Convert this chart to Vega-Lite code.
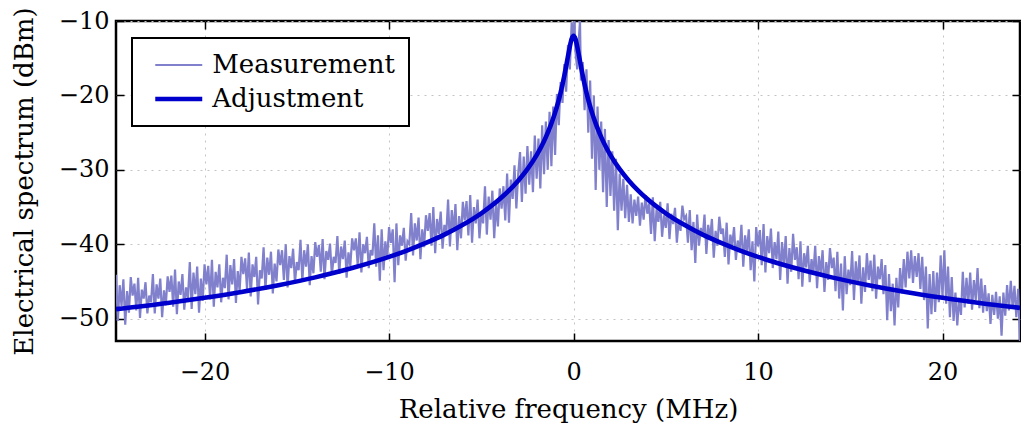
{
  "$schema": "https://vega.github.io/schema/vega-lite/v6.json",
  "width": 904,
  "height": 320,
  "autosize": "none",
  "padding": {"left": 116, "top": 21, "right": 1, "bottom": 82},
  "background": "#ffffff",
  "datasets": {
    "meas": [
      {"f":-24.8,"Measurement":-44.1},{"f":-24.7,"Measurement":-50.3},{"f":-24.6,"Measurement":-45.5},{"f":-24.5,"Measurement":-48.3},{"f":-24.4,"Measurement":-44.7},
      {"f":-24.3,"Measurement":-50.8},{"f":-24.2,"Measurement":-46.3},{"f":-24.1,"Measurement":-49.2},{"f":-24.0,"Measurement":-44.4},
      {"f":-23.9,"Measurement":-46.9},{"f":-23.8,"Measurement":-45.3},{"f":-23.7,"Measurement":-48.9},{"f":-23.6,"Measurement":-44.5},{"f":-23.5,"Measurement":-49.9},
      {"f":-23.4,"Measurement":-46.1},{"f":-23.3,"Measurement":-47.3},{"f":-23.2,"Measurement":-45.1},{"f":-23.1,"Measurement":-49.3},{"f":-23.0,"Measurement":-46.9},
      {"f":-22.9,"Measurement":-47.8},{"f":-22.8,"Measurement":-44.0},{"f":-22.7,"Measurement":-49.3},{"f":-22.6,"Measurement":-45.4},{"f":-22.5,"Measurement":-47.3},
      {"f":-22.4,"Measurement":-44.6},{"f":-22.3,"Measurement":-49.8},{"f":-22.2,"Measurement":-46.2},{"f":-22.1,"Measurement":-48.2},{"f":-22.0,"Measurement":-44.3},
      {"f":-21.9,"Measurement":-46.4},{"f":-21.8,"Measurement":-44.2},{"f":-21.7,"Measurement":-48.4},{"f":-21.6,"Measurement":-43.4},{"f":-21.5,"Measurement":-49.4},
      {"f":-21.4,"Measurement":-45.0},{"f":-21.3,"Measurement":-46.8},{"f":-21.2,"Measurement":-44.0},{"f":-21.1,"Measurement":-48.8},{"f":-21.0,"Measurement":-45.8},
      {"f":-20.9,"Measurement":-47.2},{"f":-20.8,"Measurement":-42.4},{"f":-20.7,"Measurement":-48.7},{"f":-20.6,"Measurement":-43.8},{"f":-20.5,"Measurement":-46.7},
      {"f":-20.4,"Measurement":-43.0},{"f":-20.3,"Measurement":-49.2},{"f":-20.2,"Measurement":-44.6},{"f":-20.1,"Measurement":-47.6},{"f":-20.0,"Measurement":-42.7},
      {"f":-19.9,"Measurement":-45.4},{"f":-19.8,"Measurement":-42.9},{"f":-19.7,"Measurement":-47.4},{"f":-19.6,"Measurement":-42.1},{"f":-19.5,"Measurement":-48.4},
      {"f":-19.4,"Measurement":-43.7},{"f":-19.3,"Measurement":-45.8},{"f":-19.2,"Measurement":-42.7},{"f":-19.1,"Measurement":-47.8},{"f":-19.0,"Measurement":-44.5},
      {"f":-18.9,"Measurement":-45.9},{"f":-18.8,"Measurement":-41.4},{"f":-18.7,"Measurement":-47.4},{"f":-18.6,"Measurement":-42.8},{"f":-18.5,"Measurement":-45.4},
      {"f":-18.4,"Measurement":-42.0},{"f":-18.3,"Measurement":-47.9},{"f":-18.2,"Measurement":-43.6},{"f":-18.1,"Measurement":-46.3},{"f":-18.0,"Measurement":-41.7},
      {"f":-17.9,"Measurement":-44.0},{"f":-17.8,"Measurement":-41.9},{"f":-17.7,"Measurement":-46.0},{"f":-17.6,"Measurement":-41.1},{"f":-17.5,"Measurement":-47.0},
      {"f":-17.4,"Measurement":-42.7},{"f":-17.3,"Measurement":-44.4},{"f":-17.2,"Measurement":-41.7},{"f":-17.1,"Measurement":-48.1},{"f":-17.0,"Measurement":-43.5},
      {"f":-16.9,"Measurement":-44.6},{"f":-16.8,"Measurement":-40.4},{"f":-16.7,"Measurement":-46.1},{"f":-16.6,"Measurement":-41.8},{"f":-16.5,"Measurement":-44.1},
      {"f":-16.4,"Measurement":-41.0},{"f":-16.3,"Measurement":-46.6},{"f":-16.2,"Measurement":-42.6},{"f":-16.1,"Measurement":-45.0},{"f":-16.0,"Measurement":-40.7},
      {"f":-15.9,"Measurement":-42.8},{"f":-15.8,"Measurement":-40.8},{"f":-15.7,"Measurement":-44.8},{"f":-15.6,"Measurement":-40.0},{"f":-15.5,"Measurement":-45.8},
      {"f":-15.4,"Measurement":-41.6},{"f":-15.3,"Measurement":-43.2},{"f":-15.2,"Measurement":-40.6},{"f":-15.1,"Measurement":-45.2},{"f":-15.0,"Measurement":-42.4},
      {"f":-14.9,"Measurement":-43.5},{"f":-14.8,"Measurement":-39.4},{"f":-14.7,"Measurement":-45.0},{"f":-14.6,"Measurement":-40.8},{"f":-14.5,"Measurement":-43.0},
      {"f":-14.4,"Measurement":-40.0},{"f":-14.3,"Measurement":-45.5},{"f":-14.2,"Measurement":-41.6},{"f":-14.1,"Measurement":-43.9},{"f":-14.0,"Measurement":-39.7},
      {"f":-13.9,"Measurement":-41.7},{"f":-13.8,"Measurement":-40.1},{"f":-13.7,"Measurement":-43.7},{"f":-13.6,"Measurement":-39.3},{"f":-13.5,"Measurement":-44.7},
      {"f":-13.4,"Measurement":-40.9},{"f":-13.3,"Measurement":-42.1},{"f":-13.2,"Measurement":-39.9},{"f":-13.1,"Measurement":-44.1},{"f":-13.0,"Measurement":-41.7},
      {"f":-12.9,"Measurement":-42.5},{"f":-12.8,"Measurement":-38.9},{"f":-12.7,"Measurement":-44.0},{"f":-12.6,"Measurement":-40.3},{"f":-12.5,"Measurement":-42.0},
      {"f":-12.4,"Measurement":-39.5},{"f":-12.3,"Measurement":-44.5},{"f":-12.2,"Measurement":-41.1},{"f":-12.1,"Measurement":-42.9},{"f":-12.0,"Measurement":-39.2},
      {"f":-11.9,"Measurement":-40.8},{"f":-11.8,"Measurement":-39.2},{"f":-11.7,"Measurement":-42.8},{"f":-11.6,"Measurement":-38.4},{"f":-11.5,"Measurement":-43.8},
      {"f":-11.4,"Measurement":-40.0},{"f":-11.3,"Measurement":-41.2},{"f":-11.2,"Measurement":-39.0},{"f":-11.1,"Measurement":-43.2},{"f":-11.0,"Measurement":-40.8},
      {"f":-10.9,"Measurement":-41.5},{"f":-10.8,"Measurement":-37.2},{"f":-10.7,"Measurement":-43.0},{"f":-10.6,"Measurement":-38.8},{"f":-10.5,"Measurement":-44.9},
      {"f":-10.4,"Measurement":-38.0},{"f":-10.3,"Measurement":-43.5},{"f":-10.2,"Measurement":-39.6},{"f":-10.1,"Measurement":-41.9},{"f":-10.0,"Measurement":-37.7},
      {"f":-9.9,"Measurement":-39.8},{"f":-9.8,"Measurement":-38.0},{"f":-9.7,"Measurement":-45.1},{"f":-9.6,"Measurement":-37.2},{"f":-9.5,"Measurement":-42.8},
      {"f":-9.4,"Measurement":-38.8},{"f":-9.3,"Measurement":-40.2},{"f":-9.2,"Measurement":-37.8},{"f":-9.1,"Measurement":-42.2},{"f":-9.0,"Measurement":-39.6},
      {"f":-8.9,"Measurement":-40.0},{"f":-8.8,"Measurement":-35.8},{"f":-8.7,"Measurement":-41.5},{"f":-8.6,"Measurement":-37.2},{"f":-8.5,"Measurement":-39.5},
      {"f":-8.4,"Measurement":-36.4},{"f":-8.3,"Measurement":-42.0},{"f":-8.2,"Measurement":-38.0},{"f":-8.1,"Measurement":-40.4},{"f":-8.0,"Measurement":-36.1},
      {"f":-7.9,"Measurement":-38.2},{"f":-7.8,"Measurement":-35.8},{"f":-7.7,"Measurement":-40.2},{"f":-7.6,"Measurement":-35.0},{"f":-7.5,"Measurement":-41.2},
      {"f":-7.4,"Measurement":-36.6},{"f":-7.3,"Measurement":-38.6},{"f":-7.2,"Measurement":-35.6},{"f":-7.1,"Measurement":-40.6},{"f":-7.0,"Measurement":-37.4},
      {"f":-6.9,"Measurement":-38.8},{"f":-6.8,"Measurement":-34.0},{"f":-6.7,"Measurement":-40.3},{"f":-6.6,"Measurement":-35.4},{"f":-6.5,"Measurement":-38.3},
      {"f":-6.4,"Measurement":-34.6},{"f":-6.3,"Measurement":-40.8},{"f":-6.2,"Measurement":-36.2},{"f":-6.1,"Measurement":-39.2},{"f":-6.0,"Measurement":-34.3},
      {"f":-5.9,"Measurement":-36.8},{"f":-5.8,"Measurement":-34.2},{"f":-5.7,"Measurement":-38.8},{"f":-5.6,"Measurement":-33.4},{"f":-5.5,"Measurement":-39.8},
      {"f":-5.4,"Measurement":-35.0},{"f":-5.3,"Measurement":-37.2},{"f":-5.2,"Measurement":-34.0},{"f":-5.1,"Measurement":-39.2},{"f":-5.0,"Measurement":-35.8},
      {"f":-4.9,"Measurement":-37.2},{"f":-4.8,"Measurement":-32.2},{"f":-4.7,"Measurement":-38.7},{"f":-4.6,"Measurement":-33.6},{"f":-4.5,"Measurement":-36.7},
      {"f":-4.4,"Measurement":-32.8},{"f":-4.3,"Measurement":-39.2},{"f":-4.2,"Measurement":-34.4},{"f":-4.1,"Measurement":-37.6},{"f":-4.0,"Measurement":-32.5},
      {"f":-3.9,"Measurement":-35.2},{"f":-3.8,"Measurement":-32.2},{"f":-3.7,"Measurement":-36.8},{"f":-3.6,"Measurement":-30.5},{"f":-3.5,"Measurement":-37.1},
      {"f":-3.4,"Measurement":-31.3},{"f":-3.3,"Measurement":-33.9},{"f":-3.2,"Measurement":-29.4},{"f":-3.1,"Measurement":-35.2},{"f":-3.0,"Measurement":-30.6},
      {"f":-2.9,"Measurement":-27.6},{"f":-2.8,"Measurement":-34.3},{"f":-2.7,"Measurement":-28.2},{"f":-2.6,"Measurement":-33.2},
      {"f":-2.5,"Measurement":-26.8},{"f":-2.4,"Measurement":-32.0},{"f":-2.3,"Measurement":-27.5},{"f":-2.2,"Measurement":-33.0},
      {"f":-2.1,"Measurement":-25.4},{"f":-2.0,"Measurement":-31.2},{"f":-1.9,"Measurement":-25.8},{"f":-1.8,"Measurement":-32.5},
      {"f":-1.7,"Measurement":-24.0},{"f":-1.6,"Measurement":-30.6},{"f":-1.5,"Measurement":-23.5},{"f":-1.4,"Measurement":-30.0},
      {"f":-1.3,"Measurement":-22.2},{"f":-1.2,"Measurement":-29.5},{"f":-1.1,"Measurement":-21.5},{"f":-1.0,"Measurement":-28.0},
      {"f":-0.9,"Measurement":-19.8},{"f":-0.8,"Measurement":-24.0},{"f":-0.7,"Measurement":-18.2},{"f":-0.6,"Measurement":-21.0},
      {"f":-0.5,"Measurement":-15.8},{"f":-0.4,"Measurement":-19.5},{"f":-0.3,"Measurement":-13.2},{"f":-0.2,"Measurement":-16.5},
      {"f":-0.1,"Measurement":-10.2},{"f":0.0,"Measurement":-12.5},{"f":0.05,"Measurement":-10.0},{"f":0.1,"Measurement":-14.0},
      {"f":0.2,"Measurement":-16.5},{"f":0.3,"Measurement":-12.0},{"f":0.35,"Measurement":-10.0},{"f":0.4,"Measurement":-18.0},
      {"f":0.5,"Measurement":-15.5},{"f":0.6,"Measurement":-22.0},{"f":0.7,"Measurement":-16.5},{"f":0.8,"Measurement":-25.0},
      {"f":0.9,"Measurement":-18.0},{"f":1.0,"Measurement":-28.5},{"f":1.1,"Measurement":-20.0},{"f":1.2,"Measurement":-32.7},
      {"f":1.3,"Measurement":-21.5},{"f":1.4,"Measurement":-30.0},{"f":1.5,"Measurement":-23.5},{"f":1.6,"Measurement":-33.0},
      {"f":1.7,"Measurement":-24.5},{"f":1.8,"Measurement":-35.0},{"f":1.9,"Measurement":-26.0},{"f":2.0,"Measurement":-33.5},
      {"f":2.1,"Measurement":-27.5},{"f":2.2,"Measurement":-35.5},{"f":2.3,"Measurement":-28.5},{"f":2.4,"Measurement":-38.1},
      {"f":2.5,"Measurement":-30.5},{"f":2.6,"Measurement":-35.5},{"f":2.7,"Measurement":-31.2},{"f":2.8,"Measurement":-36.5},
      {"f":2.9,"Measurement":-32.0},{"f":3.0,"Measurement":-37.0},
      {"f":3.1,"Measurement":-33.3},{"f":3.2,"Measurement":-37.2},{"f":3.3,"Measurement":-34.0},{"f":3.4,"Measurement":-36.2},{"f":3.5,"Measurement":-33.6},
      {"f":3.6,"Measurement":-37.5},{"f":3.7,"Measurement":-34.4},{"f":3.8,"Measurement":-36.7},{"f":3.9,"Measurement":-33.4},{"f":4.0,"Measurement":-35.9},
      {"f":4.1,"Measurement":-34.5},{"f":4.2,"Measurement":-38.6},{"f":4.3,"Measurement":-33.7},{"f":4.4,"Measurement":-39.6},{"f":4.5,"Measurement":-35.3},
      {"f":4.6,"Measurement":-37.0},{"f":4.7,"Measurement":-34.3},{"f":4.8,"Measurement":-39.0},{"f":4.9,"Measurement":-36.1},{"f":5.0,"Measurement":-37.8},
      {"f":5.1,"Measurement":-34.5},{"f":5.2,"Measurement":-39.3},{"f":5.3,"Measurement":-35.9},{"f":5.4,"Measurement":-37.3},{"f":5.5,"Measurement":-35.1},
      {"f":5.6,"Measurement":-39.8},{"f":5.7,"Measurement":-36.7},{"f":5.8,"Measurement":-38.2},{"f":5.9,"Measurement":-34.8},{"f":6.0,"Measurement":-36.6},
      {"f":6.1,"Measurement":-36.2},{"f":6.2,"Measurement":-39.8},{"f":6.3,"Measurement":-35.4},{"f":6.4,"Measurement":-40.8},{"f":6.5,"Measurement":-37.0},
      {"f":6.6,"Measurement":-42.5},{"f":6.7,"Measurement":-36.0},{"f":6.8,"Measurement":-40.2},{"f":6.9,"Measurement":-37.8},{"f":7.0,"Measurement":-39.0},
      {"f":7.1,"Measurement":-36.0},{"f":7.2,"Measurement":-41.3},{"f":7.3,"Measurement":-37.4},{"f":7.4,"Measurement":-39.3},{"f":7.5,"Measurement":-36.6},
      {"f":7.6,"Measurement":-41.8},{"f":7.7,"Measurement":-38.2},{"f":7.8,"Measurement":-40.2},{"f":7.9,"Measurement":-36.3},{"f":8.0,"Measurement":-38.6},
      {"f":8.1,"Measurement":-37.9},{"f":8.2,"Measurement":-41.7},{"f":8.3,"Measurement":-37.1},{"f":8.4,"Measurement":-42.7},{"f":8.5,"Measurement":-38.7},
      {"f":8.6,"Measurement":-40.1},{"f":8.7,"Measurement":-37.7},{"f":8.8,"Measurement":-42.1},{"f":8.9,"Measurement":-39.5},{"f":9.0,"Measurement":-40.9},
      {"f":9.1,"Measurement":-37.4},{"f":9.2,"Measurement":-43.0},{"f":9.3,"Measurement":-38.8},{"f":9.4,"Measurement":-41.0},{"f":9.5,"Measurement":-38.0},
      {"f":9.6,"Measurement":-43.5},{"f":9.7,"Measurement":-39.6},{"f":9.8,"Measurement":-45.0},{"f":9.9,"Measurement":-37.7},{"f":10.0,"Measurement":-40.3},
      {"f":10.1,"Measurement":-38.1},{"f":10.2,"Measurement":-42.8},{"f":10.3,"Measurement":-37.3},{"f":10.4,"Measurement":-43.8},{"f":10.5,"Measurement":-38.9},
      {"f":10.6,"Measurement":-41.2},{"f":10.7,"Measurement":-37.9},{"f":10.8,"Measurement":-43.2},{"f":10.9,"Measurement":-39.7},{"f":11.0,"Measurement":-42.0},
      {"f":11.1,"Measurement":-38.3},{"f":11.2,"Measurement":-44.8},{"f":11.3,"Measurement":-39.7},{"f":11.4,"Measurement":-42.8},{"f":11.5,"Measurement":-38.9},
      {"f":11.6,"Measurement":-45.3},{"f":11.7,"Measurement":-40.5},{"f":11.8,"Measurement":-43.7},{"f":11.9,"Measurement":-38.6},{"f":12.0,"Measurement":-42.1},
      {"f":12.1,"Measurement":-40.4},{"f":12.2,"Measurement":-44.7},{"f":12.3,"Measurement":-39.6},{"f":12.4,"Measurement":-45.7},{"f":12.5,"Measurement":-41.2},
      {"f":12.6,"Measurement":-43.1},{"f":12.7,"Measurement":-40.2},{"f":12.8,"Measurement":-45.1},{"f":12.9,"Measurement":-42.0},{"f":13.0,"Measurement":-43.9},
      {"f":13.1,"Measurement":-40.2},{"f":13.2,"Measurement":-45.9},{"f":13.3,"Measurement":-41.6},{"f":13.4,"Measurement":-43.9},{"f":13.5,"Measurement":-40.8},
      {"f":13.6,"Measurement":-46.4},{"f":13.7,"Measurement":-42.4},{"f":13.8,"Measurement":-44.8},{"f":13.9,"Measurement":-40.5},{"f":14.0,"Measurement":-43.2},
      {"f":14.1,"Measurement":-41.8},{"f":14.2,"Measurement":-46.3},{"f":14.3,"Measurement":-41.0},{"f":14.4,"Measurement":-47.3},{"f":14.5,"Measurement":-42.6},
      {"f":14.6,"Measurement":-48.9},{"f":14.7,"Measurement":-41.6},{"f":14.8,"Measurement":-46.7},{"f":14.9,"Measurement":-43.4},{"f":15.0,"Measurement":-45.5},
      {"f":15.1,"Measurement":-40.9},{"f":15.2,"Measurement":-47.5},{"f":15.3,"Measurement":-42.3},{"f":15.4,"Measurement":-45.5},{"f":15.5,"Measurement":-41.5},
      {"f":15.6,"Measurement":-48.0},{"f":15.7,"Measurement":-43.1},{"f":15.8,"Measurement":-46.4},{"f":15.9,"Measurement":-41.2},{"f":16.0,"Measurement":-44.8},
      {"f":16.1,"Measurement":-42.2},{"f":16.2,"Measurement":-46.3},{"f":16.3,"Measurement":-41.4},{"f":16.4,"Measurement":-47.3},{"f":16.5,"Measurement":-43.0},
      {"f":16.6,"Measurement":-44.7},{"f":16.7,"Measurement":-42.0},{"f":16.8,"Measurement":-46.7},{"f":16.9,"Measurement":-42.8},{"f":17.0,"Measurement":-50.2},
      {"f":17.1,"Measurement":-44.0},{"f":17.2,"Measurement":-49.0},{"f":17.3,"Measurement":-45.3},{"f":17.4,"Measurement":-50.9},{"f":17.5,"Measurement":-44.5},
      {"f":17.6,"Measurement":-48.5},{"f":17.7,"Measurement":-43.2},{"f":17.8,"Measurement":-46.6},{"f":17.9,"Measurement":-42.0},{"f":18.0,"Measurement":-45.8},
      {"f":18.1,"Measurement":-41.0},{"f":18.2,"Measurement":-44.6},{"f":18.3,"Measurement":-40.8},{"f":18.4,"Measurement":-45.2},{"f":18.5,"Measurement":-41.6},
      {"f":18.6,"Measurement":-44.4},{"f":18.7,"Measurement":-41.2},{"f":18.8,"Measurement":-46.0},{"f":18.9,"Measurement":-41.7},{"f":19.0,"Measurement":-47.5},
      {"f":19.1,"Measurement":-43.0},{"f":19.2,"Measurement":-51.3},{"f":19.3,"Measurement":-44.0},{"f":19.4,"Measurement":-49.4},{"f":19.5,"Measurement":-43.6},
      {"f":19.6,"Measurement":-49.1},{"f":19.7,"Measurement":-43.8},{"f":19.8,"Measurement":-47.8},{"f":19.9,"Measurement":-41.5},{"f":20.0,"Measurement":-47.1},
      {"f":20.1,"Measurement":-40.8},{"f":20.2,"Measurement":-48.0},{"f":20.3,"Measurement":-43.0},{"f":20.4,"Measurement":-49.8},{"f":20.5,"Measurement":-44.4},
      {"f":20.6,"Measurement":-50.3},{"f":20.7,"Measurement":-46.5},{"f":20.8,"Measurement":-50.9},{"f":20.9,"Measurement":-47.2},{"f":21.0,"Measurement":-49.5},
      {"f":21.1,"Measurement":-43.7},{"f":21.2,"Measurement":-48.5},{"f":21.3,"Measurement":-44.5},{"f":21.4,"Measurement":-48.0},{"f":21.5,"Measurement":-43.8},
      {"f":21.6,"Measurement":-48.8},{"f":21.7,"Measurement":-44.8},{"f":21.8,"Measurement":-47.5},{"f":21.9,"Measurement":-43.2},{"f":22.0,"Measurement":-48.6},
      {"f":22.1,"Measurement":-44.6},{"f":22.2,"Measurement":-49.2},{"f":22.3,"Measurement":-45.5},{"f":22.4,"Measurement":-49.0},{"f":22.5,"Measurement":-46.6},
      {"f":22.6,"Measurement":-50.7},{"f":22.7,"Measurement":-46.8},{"f":22.8,"Measurement":-49.5},{"f":22.9,"Measurement":-46.4},{"f":23.0,"Measurement":-50.0},
      {"f":23.1,"Measurement":-47.0},{"f":23.2,"Measurement":-52.3},{"f":23.3,"Measurement":-46.5},{"f":23.4,"Measurement":-49.6},{"f":23.5,"Measurement":-45.5},
      {"f":23.6,"Measurement":-48.9},{"f":23.7,"Measurement":-44.9},{"f":23.8,"Measurement":-48.5},{"f":23.9,"Measurement":-45.6},{"f":24.0,"Measurement":-49.8},
      {"f":24.1,"Measurement":-46.0},{"f":24.2,"Measurement":-53.0}
    ],
    "fit": [
      {"f":-24.8,"Adjustment":-48.72},{"f":-22,"Adjustment":-47.89},{"f":-20,"Adjustment":-47.19},{"f":-18,"Adjustment":-46.41},
      {"f":-16,"Adjustment":-45.50},{"f":-14,"Adjustment":-44.45},{"f":-12,"Adjustment":-43.20},{"f":-10,"Adjustment":-41.70},
      {"f":-9,"Adjustment":-40.82},{"f":-8,"Adjustment":-39.83},{"f":-7,"Adjustment":-38.71},{"f":-6,"Adjustment":-37.39},
      {"f":-5,"Adjustment":-35.84},{"f":-4,"Adjustment":-33.93},{"f":-3,"Adjustment":-31.46},{"f":-2.5,"Adjustment":-29.91},
      {"f":-2,"Adjustment":-28.02},{"f":-1.75,"Adjustment":-26.89},{"f":-1.5,"Adjustment":-25.60},{"f":-1.25,"Adjustment":-24.10},
      {"f":-1,"Adjustment":-22.31},{"f":-0.9,"Adjustment":-21.49},{"f":-0.8,"Adjustment":-20.60},{"f":-0.7,"Adjustment":-19.62},
      {"f":-0.6,"Adjustment":-18.54},{"f":-0.5,"Adjustment":-17.36},{"f":-0.4,"Adjustment":-16.08},{"f":-0.3,"Adjustment":-14.73},
      {"f":-0.2,"Adjustment":-13.43},{"f":-0.1,"Adjustment":-12.40},{"f":0,"Adjustment":-12.00},{"f":0.1,"Adjustment":-12.40},
      {"f":0.2,"Adjustment":-13.43},{"f":0.3,"Adjustment":-14.73},{"f":0.4,"Adjustment":-16.08},{"f":0.5,"Adjustment":-17.36},
      {"f":0.6,"Adjustment":-18.54},{"f":0.7,"Adjustment":-19.62},{"f":0.8,"Adjustment":-20.60},{"f":0.9,"Adjustment":-21.49},
      {"f":1,"Adjustment":-22.31},{"f":1.25,"Adjustment":-24.10},{"f":1.5,"Adjustment":-25.60},{"f":1.75,"Adjustment":-26.89},
      {"f":2,"Adjustment":-28.02},{"f":2.5,"Adjustment":-29.91},{"f":3,"Adjustment":-31.46},{"f":4,"Adjustment":-33.93},
      {"f":5,"Adjustment":-35.84},{"f":6,"Adjustment":-37.39},{"f":7,"Adjustment":-38.71},{"f":8,"Adjustment":-39.83},
      {"f":9,"Adjustment":-40.82},{"f":10,"Adjustment":-41.70},{"f":12,"Adjustment":-43.20},{"f":14,"Adjustment":-44.45},
      {"f":16,"Adjustment":-45.50},{"f":18,"Adjustment":-46.41},{"f":20,"Adjustment":-47.19},{"f":22,"Adjustment":-47.89},
      {"f":24.2,"Adjustment":-48.55}
    ]
  },
  "resolve": {"axis": {"x": "independent", "y": "independent"}},
  "layer": [
    {
      "data": {"name": "meas"},
      "transform": [{"fold": ["Measurement"], "as": ["s", "v"]}],
      "mark": {"type": "line", "clip": true, "strokeWidth": 2.2},
      "encoding": {
        "x": {"field": "f", "type": "quantitative",
              "scale": {"domain": [-24.8, 24.2], "nice": false, "zero": false},
              "axis": {"orient": "bottom", "values": [-20, -10, 0, 10, 20], "title": "Relative frequency (MHz)", "grid": true}},
        "y": {"field": "v", "type": "quantitative",
              "scale": {"domain": [-53, -10], "nice": false, "zero": false},
              "axis": {"orient": "left", "values": [-50, -40, -30, -20, -10], "title": "Electrical spectrum (dBm)", "grid": true}},
        "color": {"field": "s", "type": "nominal",
                  "scale": {"domain": ["Measurement", "Adjustment"], "range": ["#8080cc", "#0000cc"]},
                  "legend": {"title": null,
                             "encode": {
                               "legend": {"update": {"strokeWidth": {"value": 2}}},
                               "symbols": {"update": {"strokeWidth": {"signal": "datum.value === 'Adjustment' ? 4.6 : 2"}}}
                             }}}
      }
    },
    {
      "data": {"name": "fit"},
      "transform": [{"fold": ["Adjustment"], "as": ["s", "v"]}],
      "mark": {"type": "line", "clip": true, "interpolate": "monotone", "strokeWidth": 4.6},
      "encoding": {
        "x": {"field": "f", "type": "quantitative",
              "axis": {"orient": "top", "values": [-20, -10, 0, 10, 20], "title": null, "labels": false, "grid": false}},
        "y": {"field": "v", "type": "quantitative",
              "axis": {"orient": "right", "values": [-50, -40, -30, -20, -10], "title": null, "labels": false, "grid": false}},
        "color": {"field": "s", "type": "nominal"}
      }
    }
  ],
  "config": {
    "font": "DejaVu Serif",
    "view": {"stroke": "#000000", "strokeWidth": 2.5},
    "axis": {
      "domain": false,
      "gridColor": "#c4c4c4",
      "gridDash": [2, 5],
      "gridWidth": 1,
      "tickColor": "#000000",
      "tickWidth": 1.5,
      "tickSize": -8,
      "labelFont": "DejaVu Serif",
      "labelFontSize": 24,
      "labelColor": "#000000",
      "titleFont": "DejaVu Serif",
      "titleFontSize": 26,
      "titleFontWeight": "normal",
      "titleColor": "#000000"
    },
    "axisX": {"labelPadding": 27, "titlePadding": 12},
    "axisY": {"labelPadding": 15, "titlePadding": 21},
    "legend": {
      "orient": "none",
      "legendX": 16,
      "legendY": 17,
      "symbolType": "M-2,0H2",
      "symbolSize": 552,
      "symbolOffset": 19.75,
      "labelOffset": 20.5,
      "labelLimit": 0,
      "labelFont": "DejaVu Serif",
      "labelFontSize": 26,
      "labelColor": "#000000",
      "padding": 14,
      "rowPadding": 8,
      "strokeColor": "#000000",
      "fillColor": "#ffffff",
      "symbolOpacity": 1
    }
  }
}
